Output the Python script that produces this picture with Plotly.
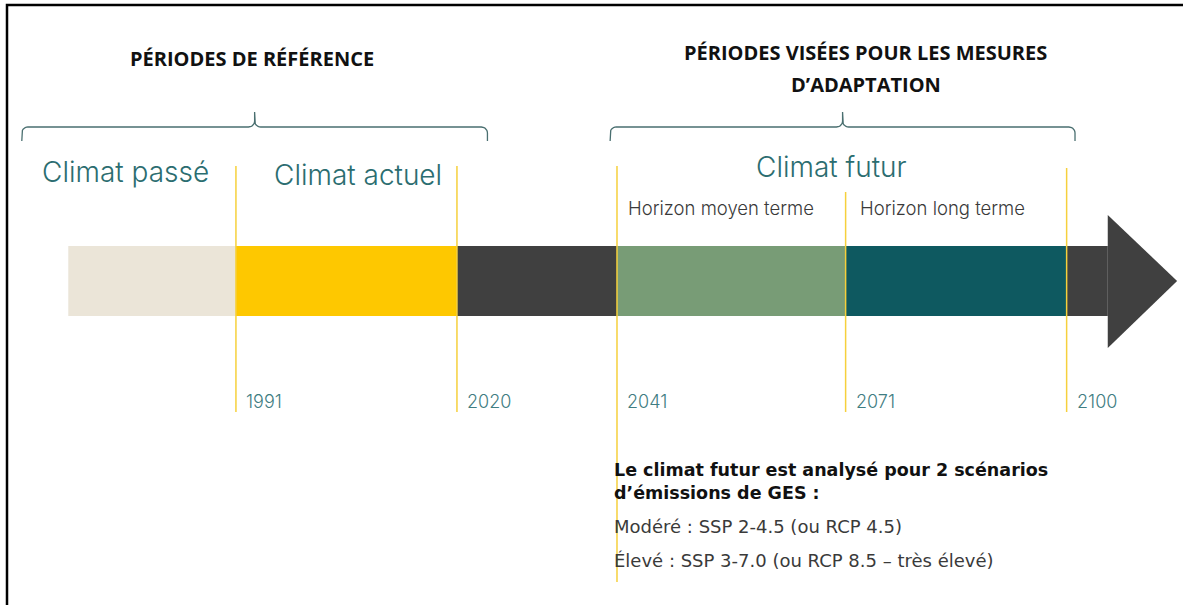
import numpy as np
import plotly.graph_objects as go

# ---------------- data ----------------
boundary_years = [1991, 2020, 2041, 2071, 2100]
year_labels = ["1991", "2020", "2041", "2071", "2100"]
timeline_start = 1969
arrow_base = 2105.4
arrow_tip = 2114.5

segment_starts = [1969, 1991, 2020, 2041, 2071, 2100]
segment_ends = [1991, 2020, 2041, 2071, 2100, 2105.4]
segment_colors = ["#ebe5d8", "#fec800", "#404040", "#789c76", "#0e5960", "#404040"]

period_names = ["Climat passé", "Climat actuel", "Climat futur"]
period_spans = [(1969, 1991), (1991, 2020), (2041, 2100)]
horizon_names = ["Horizon moyen terme", "Horizon long terme"]
horizon_spans = [(2041, 2071), (2071, 2100)]

bracket_ref = (1962.9, 2024.0)
bracket_fut = (2040.1, 2101.1)

# ---------------- layout constants (pixel rows on a reversed y axis) ----------------
BAR_Y, BAR_H = 281, 70
HEAD_TOP, HEAD_BOT = 215, 348
line_tops = [166, 166, 166, 192, 168]
line_bots = [412, 412, 582, 412, 412]
X_RANGE = [1960.04, 2115.27]

TEAL = "#2b6d70"
YEAR_C = "#3f7d82"
LINE_Y = "#f6d03c"

fig = go.Figure()

# timeline segments
fig.add_trace(go.Bar(
    orientation="h",
    y=[BAR_Y] * len(segment_starts),
    base=segment_starts,
    x=[e - s for s, e in zip(segment_starts, segment_ends)],
    width=BAR_H,
    marker=dict(color=segment_colors, line=dict(width=0)),
    hoverinfo="skip",
    showlegend=False,
))

# arrow head
fig.add_trace(go.Scatter(
    x=[arrow_base, arrow_tip, arrow_base, arrow_base],
    y=[HEAD_TOP, BAR_Y, HEAD_BOT, HEAD_TOP],
    fill="toself", fillcolor="#404040", mode="lines",
    line=dict(width=0, color="#404040"),
    hoverinfo="skip", showlegend=False,
))


# curly brackets
def bracket(x1, x2, y_line=127, y_end=141, y_peak=112, rx=0.8, ry=6):
    mid = (x1 + x2) / 2
    t = np.linspace(0, np.pi / 2, 8)
    xs, ys = [x1], [y_end]
    xs += list(x1 + rx - rx * np.cos(t)); ys += list(y_line + ry - ry * np.sin(t))
    xs += list(mid - rx + rx * np.sin(t)); ys += list(y_line - ry + ry * np.cos(t))
    xs += [mid]; ys += [y_peak]
    xs += [mid]; ys += [y_line - ry]
    xs += list(mid + rx - rx * np.cos(t)); ys += list(y_line - ry + ry * np.sin(t))
    xs += list(x2 - rx + rx * np.sin(t)); ys += list(y_line + ry - ry * np.cos(t))
    xs += [x2]; ys += [y_end]
    return xs, ys


for bx in (bracket_ref, bracket_fut):
    xs, ys = bracket(*bx)
    fig.add_trace(go.Scatter(x=xs, y=ys, mode="lines",
                             line=dict(color="#4a6f70", width=1.3),
                             hoverinfo="skip", showlegend=False))

# yellow boundary lines
for yr, t, b in zip(boundary_years, line_tops, line_bots):
    fig.add_shape(type="line", xref="x", yref="y", x0=yr, x1=yr, y0=t, y1=b,
                  line=dict(color=LINE_Y, width=1.5), layer="above")

ann = []
# year labels
for yr, lab in zip(boundary_years, year_labels):
    ann.append(dict(x=yr, y=401, text=lab, xanchor="left", xshift=8,
                    font=dict(family="Inter", size=18, color=YEAR_C, weight=300)))

# period labels
period_shift = [-27, 12, -10]
period_y = [172, 175, 167]
for name, (a, b), sh, py in zip(period_names, period_spans, period_shift, period_y):
    ann.append(dict(x=(a + b) / 2, y=py, text=name, xshift=sh,
                    font=dict(family="Inter", size=28, color=TEAL, weight=300)))

horizon_shift = [-10, -14]
for name, (a, b), sh in zip(horizon_names, horizon_spans, horizon_shift):
    ann.append(dict(x=(a + b) / 2, y=208, text=name, xshift=sh,
                    font=dict(family="Inter", size=18.5, color="#3a3a3a", weight=300)))

# section titles
TITLE_FONT = dict(family="Open Sans", size=20, color="#111111", weight="bold")
ann.append(dict(x=sum(bracket_ref) / 2, y=58, text="PÉRIODES DE RÉFÉRENCE",
                xshift=-3, font=TITLE_FONT))
ann.append(dict(x=sum(bracket_fut) / 2, y=52, text="PÉRIODES VISÉES POUR LES MESURES",
                xshift=23, font=TITLE_FONT))
ann.append(dict(x=sum(bracket_fut) / 2, y=84, text="D’ADAPTATION",
                xshift=23, font=TITLE_FONT))

# scenario note
note_lines = [
    ("<b>Le climat futur est analysé pour 2 scénarios<br>d’émissions de GES :</b>",
     481, "#111111", 17.5),
    ("Modéré : SSP 2-4.5 (ou RCP 4.5)", 526, "#3a3a3a", 18),
    ("Élevé : SSP 3-7.0 (ou RCP 8.5 – très élevé)", 560, "#3a3a3a", 18),
]
for txt, yy, col, fs in note_lines:
    ann.append(dict(x=boundary_years[2], y=yy, text=txt, xanchor="left", xshift=-5,
                    align="left",
                    font=dict(family="DejaVu Sans", size=fs, color=col)))

for a in ann:
    a.setdefault("xref", "x")
    a.setdefault("yref", "y")
    a.setdefault("showarrow", False)
    a.setdefault("yanchor", "middle")
    a.setdefault("xanchor", "center")

# outer frame
fig.add_shape(type="rect", xref="paper", yref="y", x0=7 / 1183, x1=1.02, y0=5, y1=620,
              line=dict(color="#000000", width=2.5), fillcolor="rgba(0,0,0,0)")

fig.update_layout(
    width=1183, height=605,
    margin=dict(l=0, r=0, t=0, b=0),
    paper_bgcolor="white", plot_bgcolor="white",
    barmode="overlay",
    xaxis=dict(range=X_RANGE, visible=False, fixedrange=True),
    yaxis=dict(range=[605, 0], visible=False, fixedrange=True),
    annotations=ann,
    hovermode=False,
    showlegend=False,
)

fig.write_html("out.html", config={"displayModeBar": False},
               post_script="document.body.style.margin='0px';document.body.style.overflow='hidden';")
